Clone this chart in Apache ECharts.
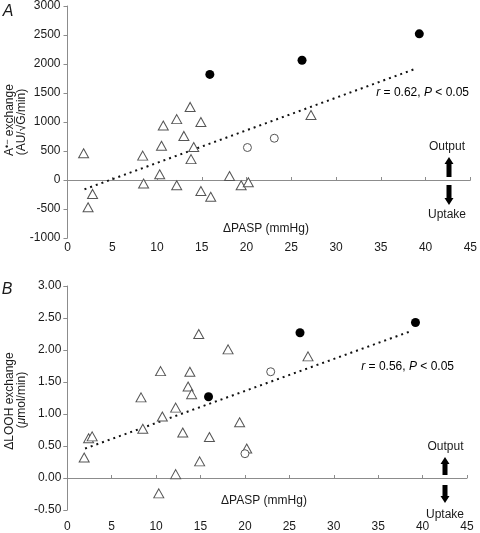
<!DOCTYPE html>
<html><head><meta charset="utf-8">
<script src="https://cdn.jsdelivr.net/npm/echarts@6/dist/echarts.min.js"></script>
<style>html,body{margin:0;padding:0;background:#fff}#c{width:480px;height:533px}</style>
</head><body><div id="c"></div>
<script>
// ---- Data ----
var xTicks = [0,5,10,15,20,25,30,35,40,45];
// Panel A: A•− exchange vs ΔPASP
var aTriangles = [[1.8,460],[2.8,-240],[2.3,-470],[8.4,420],[8.5,-60],[10.3,100],[10.5,590],[10.7,940],[12.2,1050],[12.2,-90],[13.0,760],[13.7,1260],[14.1,570],[13.8,360],[14.9,1000],[14.9,-190],[16.0,-290],[18.1,70],[19.4,-90],[20.2,-40],[27.2,1120]];
var aOpen = [[20.1,560],[23.1,720]];
var aFilled = [[15.9,1820],[26.2,2065],[39.3,2520]];
var aTrend = [[1.9,-160],[39.0,1925]];
// Panel B: ΔLOOH exchange vs ΔPASP
var bTriangles = [[1.9,0.32],[2.4,0.62],[2.8,0.65],[8.3,1.26],[8.5,0.77],[10.3,-0.24],[10.5,1.67],[10.7,0.96],[12.2,1.10],[12.2,0.06],[13.0,0.71],[13.6,1.43],[13.8,1.66],[14.0,1.31],[14.8,2.25],[14.9,0.26],[16.0,0.64],[18.1,2.01],[19.4,0.87],[20.2,0.46],[27.1,1.90]];
var bOpen = [[20.0,0.38],[22.9,1.66]];
var bFilled = [[15.9,1.27],[26.2,2.27],[39.2,2.43]];
var bTrend = [[2.0,0.46],[38.8,2.30]];

var FONT = 'Liberation Sans, Arial, sans-serif';
var AX = '#8c8c8c';
var TXT = '#1a1a1a';

function labelAxis(g, margin){
  return {gridIndex:g, type:'value', min:0, max:45, interval:5, position:'bottom',
    axisLine:{show:false, onZero:false}, axisTick:{show:false}, splitLine:{show:false},
    axisLabel:{fontSize:12, color:TXT, fontFamily:FONT, margin:margin}};
}
function zeroAxis(g){
  return {gridIndex:g, type:'value', min:0, max:45, interval:5, position:'bottom',
    axisLine:{show:true, onZero:true, lineStyle:{color:AX, width:1}},
    axisTick:{show:true, inside:true, length:3, lineStyle:{color:AX}},
    axisLabel:{show:false}, splitLine:{show:false}};
}
function yAx(g, min, max, interval, fmt, margin){
  return {gridIndex:g, type:'value', min:min, max:max, interval:interval,
    axisLine:{show:true, onZero:false, lineStyle:{color:AX, width:1}},
    axisTick:{show:true, length:4, lineStyle:{color:AX}},
    splitLine:{show:false},
    axisLabel:{fontSize:12, color:TXT, fontFamily:FONT, margin:margin, formatter:fmt}};
}
function tri(data, xi, yi){
  return {type:'scatter', xAxisIndex:xi, yAxisIndex:yi, data:data, symbol:'triangle', symbolSize:[10,9],
    itemStyle:{color:'#fff', borderColor:'#555', borderWidth:1, opacity:1}, z:3};
}
function openC(data, xi, yi){
  return {type:'scatter', xAxisIndex:xi, yAxisIndex:yi, data:data, symbol:'circle', symbolSize:8,
    itemStyle:{color:'#fff', borderColor:'#555', borderWidth:1, opacity:1}, z:3};
}
function fillC(data, xi, yi){
  return {type:'scatter', xAxisIndex:xi, yAxisIndex:yi, data:data, symbol:'circle', symbolSize:9,
    itemStyle:{color:'#000', opacity:1}, z:4};
}
function trend(data, xi, yi){
  return {type:'line', xAxisIndex:xi, yAxisIndex:yi, data:data, symbol:'none', silent:true,
    lineStyle:{color:'#111', width:2, type:[2,4], cap:'butt'}, z:2};
}
function upArrow(cx, top, bottom){
  var h = 7;
  return {type:'polygon', shape:{points:[[cx,top],[cx+4.5,top+h],[cx+2.5,top+h],[cx+2.5,bottom],[cx-2.5,bottom],[cx-2.5,top+h],[cx-4.5,top+h]]}, style:{fill:'#000'}};
}
function downArrow(cx, top, bottom){
  var h = 7;
  return {type:'polygon', shape:{points:[[cx,bottom],[cx+4.5,bottom-h],[cx+2.5,bottom-h],[cx+2.5,top],[cx-2.5,top],[cx-2.5,bottom-h],[cx-4.5,bottom-h]]}, style:{fill:'#000'}};
}
function txt(x, y, s, opts){
  var st = {text:s, x:x, y:y, fill:TXT, font:'12px ' + FONT, align:'center', verticalAlign:'middle'};
  for (var k in opts) st[k] = opts[k];
  return {type:'text', style:st};
}
function rtxt(x, y, s, rot, rich){
  return {type:'text', x:x, y:y, rotation:rot, style:{text:s, fill:TXT, font:'12px ' + FONT, align:'center', verticalAlign:'middle', rich:rich}};
}
var richStat = {n:{fontSize:12, fontFamily:FONT, color:TXT}, i:{fontSize:12, fontFamily:FONT, fontStyle:'italic', color:TXT}};

var chart = echarts.init(document.getElementById('c'), null, {renderer:'canvas'});
chart.setOption({
  animation:false,
  backgroundColor:'#fff',
  grid:[
    {left:67.5, right:6.7, top:6, height:232},
    {left:67.3, right:13, top:286, height:225.5}
  ],
  xAxis:[labelAxis(0,4), zeroAxis(0), labelAxis(1,11), zeroAxis(1)],
  yAxis:[
    yAx(0,-1000,3000,500,function(v){return String(v);},7),
    yAx(1,-0.5,3,0.5,function(v){return v.toFixed(2);},6)
  ],
  series:[
    trend(aTrend,0,0), tri(aTriangles,0,0), openC(aOpen,0,0), fillC(aFilled,0,0),
    trend(bTrend,2,1), tri(bTriangles,2,1), openC(bOpen,2,1), fillC(bFilled,2,1)
  ],
  graphic:[
    txt(8, 12, 'A', {font:'italic 16px ' + FONT}),
    txt(7, 290, 'B', {font:'italic 16px ' + FONT}),
    rtxt(9.5, 120, '{n|A}{s|•−}{n| exchange}', Math.PI/2, {n:{fontSize:12, fontFamily:FONT, color:TXT}, s:{fontSize:9, fontFamily:FONT, color:TXT, verticalAlign:'top'}}),
    rtxt(22, 122, '(AU/√G\u0305/min)', Math.PI/2),
    rtxt(9.5, 401, 'ΔLOOH exchange', Math.PI/2),
    rtxt(21.5, 400, '{n|(}{i|μ}{n|mol/min)}', Math.PI/2, richStat),
    txt(266, 229, 'ΔPASP (mmHg)'),
    txt(264, 501, 'ΔPASP (mmHg)'),
    {type:'text', style:{text:'{i|r}{n| = 0.62, }{i|P}{n| < 0.05}', x:469, y:93, align:'right', verticalAlign:'middle', rich:richStat}},
    {type:'text', style:{text:'{i|r}{n| = 0.56, }{i|P}{n| < 0.05}', x:454, y:367, align:'right', verticalAlign:'middle', rich:richStat}},
    txt(447, 147, 'Output'),
    upArrow(449, 157, 177),
    downArrow(449, 185, 205),
    txt(447, 215, 'Uptake'),
    txt(445.5, 447, 'Output'),
    upArrow(445, 457, 475),
    downArrow(445, 485, 503),
    txt(445, 515, 'Uptake')
  ]
});
</script>
</body></html>
